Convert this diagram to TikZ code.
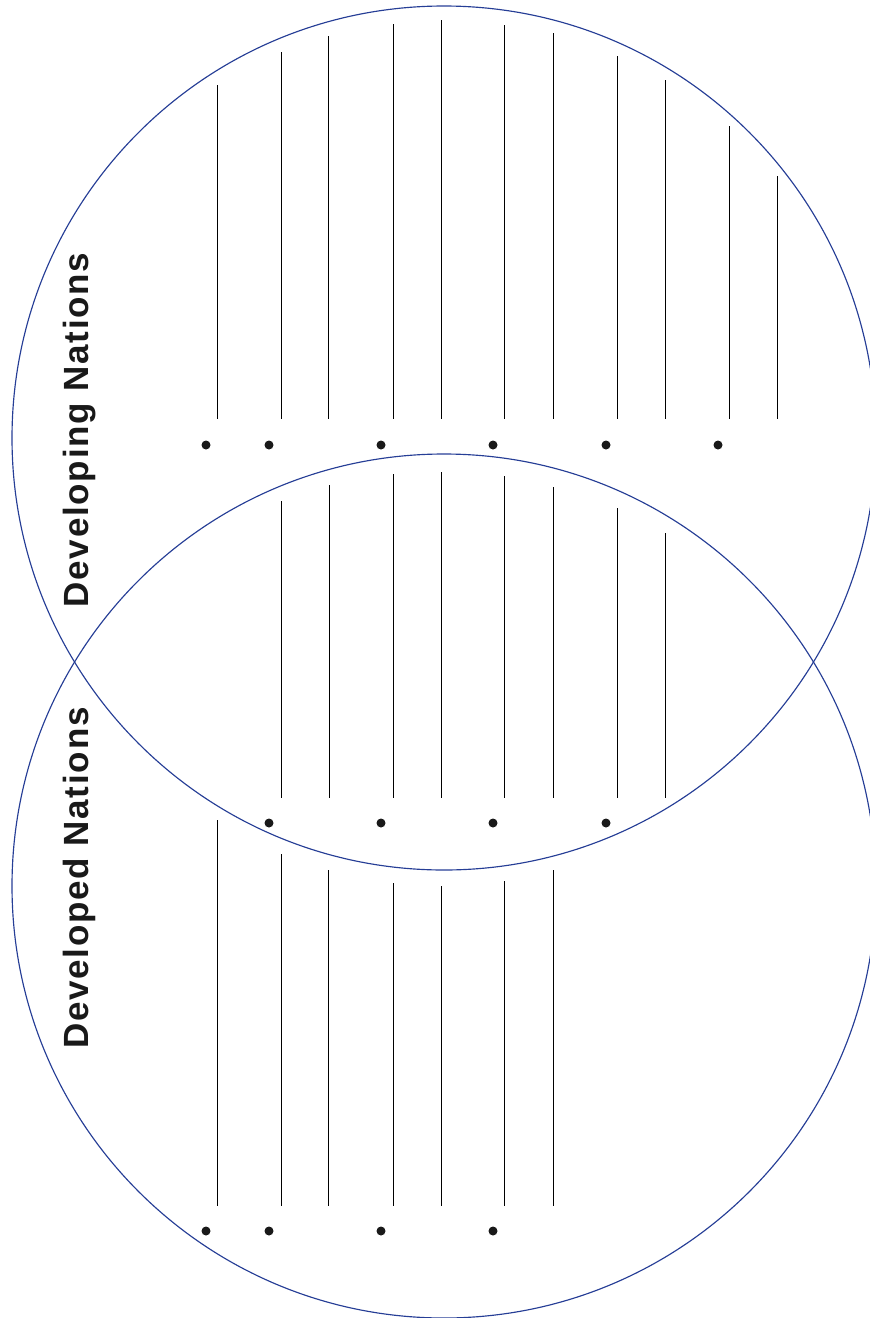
\documentclass[tikz,border=0pt]{standalone}
\usepackage{fontspec}
\setsansfont{Liberation Sans}
\newfontfamily\titleFont{Liberation Sans}[LetterSpace=5]
\usepackage{xcolor}
\usetikzlibrary{positioning, calc}

\definecolor{vennBlue}{RGB}{38,62,150}

\begin{document}
\begin{tikzpicture}[
    x=1pt, y=-1pt,
    vennCircle/.style={
        circle,
        draw=vennBlue,
        line width=1.15pt,
        minimum size=864pt,
        inner sep=0pt,
        outer sep=0pt
    },
    writeLine/.style={draw=black, line width=0.8pt},
    bulletDot/.style={fill=black!90},
    titleText/.style={
        rotate=90,
        anchor=base,
        inner sep=0pt,
        text=black!90,
        font=\titleFont\bfseries\fontsize{35}{40}\selectfont
    }
]
    \useasboundingbox (0,0) rectangle (870,1318);

    % --- 1. Circles ---
    \node[vennCircle] (developing) at (444,438) {};
    \node[vennCircle] (developed) at (444,886) {};

    % --- 2. Titles ---
    \node[titleText] (developingTitle) at (88,430) {Developing Nations};
    \node[titleText] (developedTitle) at (88,878) {Developed Nations};

    % --- 3. Writing lines ---
    \foreach \x/\ytop in {217/85, 281/52, 328/36, 393/24, 441/20, 504/25,
                          553/33, 617/56, 665/80, 729/126, 777/176}
        \draw[writeLine] (\x,\ytop) -- (\x,419);
    \foreach \x/\ytop in {281/501, 329/485, 393/474, 441/472, 504/476,
                          553/487, 617/508, 665/533}
        \draw[writeLine] (\x,\ytop) -- (\x,798);
    \foreach \x/\ytop in {217/820, 281/854, 328/870, 393/883, 441/886,
                          504/881, 553/870}
        \draw[writeLine] (\x,\ytop) -- (\x,1206);

    % --- 4. Bullets ---
    \foreach \x in {206, 269, 381, 493, 606, 718}
        \fill[bulletDot] (\x,445) circle (4.5pt);
    \foreach \x in {269, 381, 493, 606}
        \fill[bulletDot] (\x,823) circle (4.5pt);
    \foreach \x in {206, 269, 381, 493}
        \fill[bulletDot] (\x,1231) circle (4.5pt);
\end{tikzpicture}
\end{document}
